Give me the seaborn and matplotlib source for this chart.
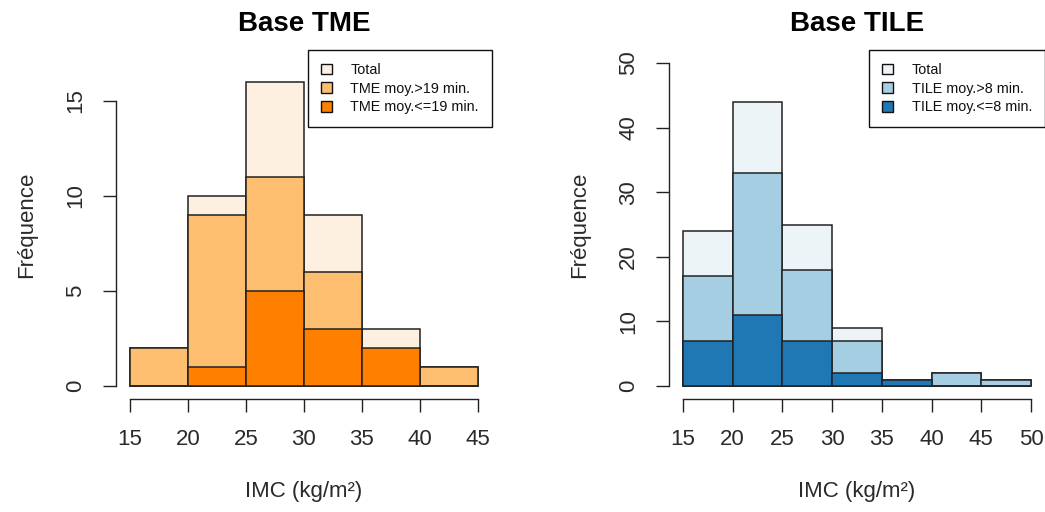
import matplotlib
matplotlib.use("Agg")
import matplotlib.pyplot as plt
import seaborn as sns
from matplotlib.patches import Patch

# IMC histograms, counts per 5 kg/m² class
tme_edges = [15, 20, 25, 30, 35, 40, 45]
tme_total = [2, 10, 16, 9, 3, 1]
tme_hi = [2, 9, 11, 6, 1, 1]      # TME moy. > 19 min.
tme_lo = [0, 1, 5, 3, 2, 0]       # TME moy. <= 19 min.

tile_edges = [15, 20, 25, 30, 35, 40, 45, 50]
tile_total = [24, 44, 25, 9, 1, 2, 1]
tile_hi = [17, 33, 18, 7, 0, 2, 1]    # TILE moy. > 8 min.
tile_lo = [7, 11, 7, 2, 1, 0, 0]      # TILE moy. <= 8 min.

tme_labels = ["Total", "TME moy.>19 min.", "TME moy.<=19 min."]
tile_labels = ["Total", "TILE moy.>8 min.", "TILE moy.<=8 min."]
tme_colors = ["#FEF0E1", "#FDBF6F", "#FF7F00"]
tile_colors = ["#EDF4F8", "#A6CEE3", "#1F78B4"]

sns.set_style("ticks")
plt.rcParams["font.family"] = ["Liberation Sans", "DejaVu Sans"]

fig = plt.figure(figsize=(10.45, 5.12), dpi=100)
ax_l = fig.add_axes([0.1110, 0.2207, 0.3597, 0.6816])
ax_r = fig.add_axes([0.6402, 0.2207, 0.3598, 0.6816])

EDGE = "#222222"
TEXT = "#2a2a2a"


def draw_panel(ax, edges, series, colors, labels, title, yticks, ylim):
    centers = [(a + b) / 2 for a, b in zip(edges[:-1], edges[1:])]
    for counts, col in zip(series, colors):
        sns.histplot(x=centers, weights=counts, bins=edges, ax=ax,
                     color=col, edgecolor=EDGE, linewidth=1.1, alpha=1,
                     stat="count")
    span = edges[-1] - edges[0]
    ax.set_xlim(edges[0] - 0.04 * span, edges[-1] + 0.04 * span)
    ax.set_ylim(-0.04 * ylim, 1.04 * ylim)

    for s in ("top", "right"):
        ax.spines[s].set_visible(False)
    ax.spines["left"].set_bounds(yticks[0], yticks[-1])
    ax.spines["bottom"].set_bounds(edges[0], edges[-1])
    for s in ("left", "bottom"):
        ax.spines[s].set_linewidth(1.0)
        ax.spines[s].set_color("#222222")

    ax.set_xticks(edges)
    ax.set_xticklabels([str(e) for e in edges])
    ax.set_yticks(yticks)
    ax.set_yticklabels([str(t) for t in yticks], rotation=90, va="center")
    ax.tick_params(direction="out", length=9.4, width=1.0, pad=12,
                   labelsize=16, colors=TEXT)
    ax.tick_params(color="#222222")

    ax.set_xlabel("IMC (kg/m²)", fontsize=16, color=TEXT)
    ax.set_ylabel("Fréquence", fontsize=16, color=TEXT)
    ax.xaxis.set_label_coords(0.5, -0.235)
    ax.yaxis.set_label_coords(-0.21, 0.5)

    ax.set_title(title, fontsize=20, fontweight="bold", pad=14, color="black")

    handles = [Patch(facecolor=c, edgecolor="#111111", linewidth=1.0)
               for c in colors]
    leg = ax.legend(handles, labels, loc="upper right", fontsize=10.4,
                    frameon=True, fancybox=False, framealpha=1,
                    edgecolor="#111111", borderaxespad=0, borderpad=0.9,
                    handlelength=0.75, handleheight=0.75,
                    handletextpad=1.3, labelspacing=0.32)
    leg.get_frame().set_linewidth(1.0)
    for t in leg.get_texts():
        t.set_color("#111111")


draw_panel(ax_l, tme_edges, [tme_total, tme_hi, tme_lo], tme_colors,
           tme_labels, "Base TME", [0, 5, 10, 15], 17)
draw_panel(ax_r, tile_edges, [tile_total, tile_hi, tile_lo], tile_colors,
           tile_labels, "Base TILE", [0, 10, 20, 30, 40, 50], 50)

fig.savefig("out.png", dpi=100)
